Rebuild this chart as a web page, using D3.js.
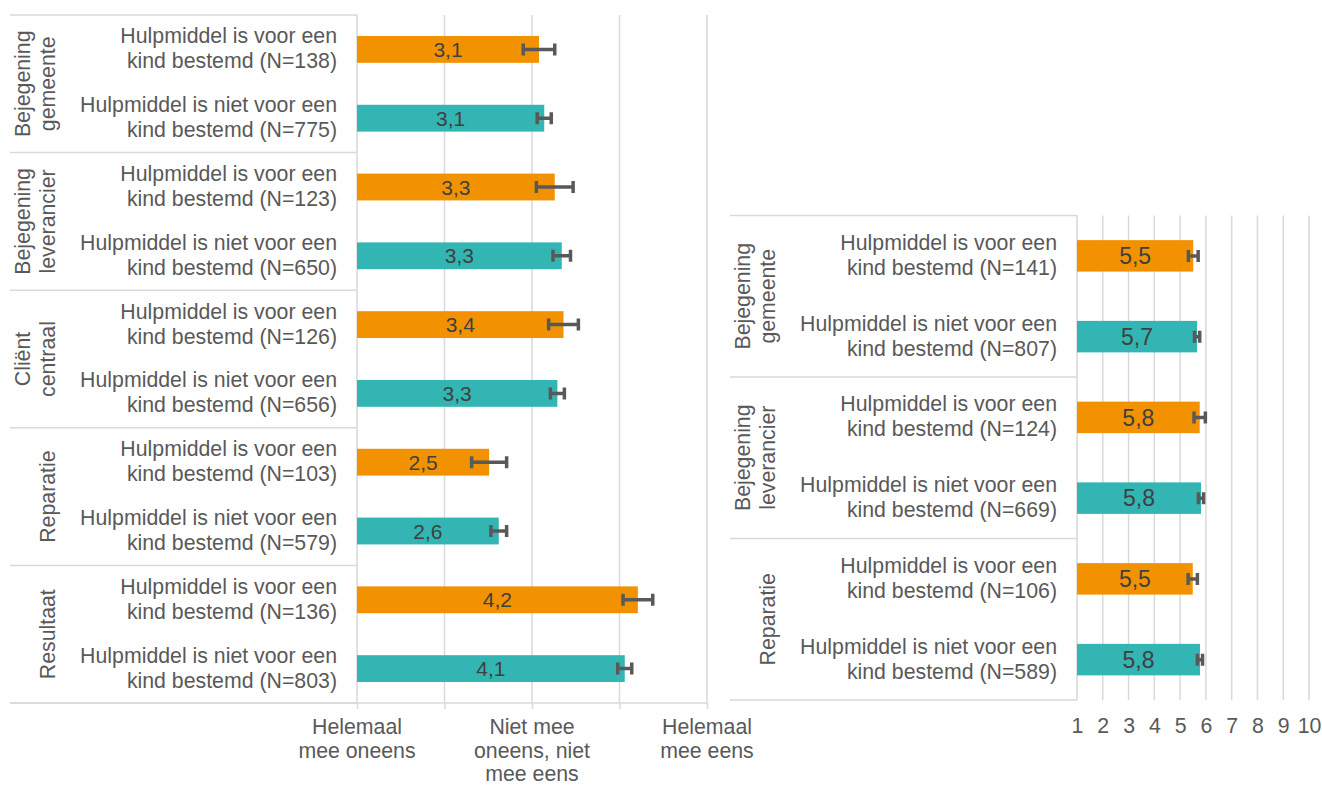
<!DOCTYPE html>
<html>
<head>
<meta charset="utf-8">
<script src="https://cdn.jsdelivr.net/npm/d3@7"></script>
<style>
	body { margin: 0; background: #fff; }
	svg { font-family: "Liberation Sans", Arial, sans-serif; }
	.grid { stroke: #d9d9d9; stroke-width: 1.5; }
	.lbl { fill: #595959; font-size: 21.3px; }
	.val { fill: #404040; }
	.err { stroke: #595959; stroke-width: 3.5; fill: none; }
</style>
</head>
<body>
<svg id="chart" width="1322" height="785"></svg>
<script>
// groups, items and values
var leftGroups = [["Bejegening", "gemeente"], ["Bejegening", "leverancier"], ["Cliënt", "centraal"], ["Reparatie"], ["Resultaat"]];
var rightGroups = [["Bejegening", "gemeente"], ["Bejegening", "leverancier"], ["Reparatie"]];
var itemLines = [["Hulpmiddel is voor een", "kind bestemd"], ["Hulpmiddel is niet voor een", "kind bestemd"]];
var seriesColors = ["#f39200", "#33b5b3"];

var leftN = [138, 775, 123, 650, 126, 656, 103, 579, 136, 803];
var leftMeans = [3.08, 3.14, 3.26, 3.34, 3.36, 3.29, 2.51, 2.62, 4.21, 4.06];
var leftErr = [0.18, 0.08, 0.21, 0.10, 0.17, 0.08, 0.20, 0.09, 0.17, 0.08];
var leftTicks = [1, 2, 3, 4, 5];
var leftTickLabels = {1: ["Helemaal", "mee oneens"], 3: ["Niet mee", "oneens, niet", "mee eens"], 5: ["Helemaal", "mee eens"]};

var rightN = [141, 807, 124, 669, 106, 589];
var rightMeans = [5.51, 5.66, 5.76, 5.81, 5.49, 5.77];
var rightErr = [0.19, 0.10, 0.22, 0.10, 0.18, 0.10];
var rightTicks = [1, 2, 3, 4, 5, 6, 7, 8, 9, 10];

var svg = d3.select("#chart");

function buildRows(means, errs, ns) {
	return means.map(function(m, i) {
		return {
			"i": i,
			"mean": m,
			"err": errs[i],
			"n": ns[i],
			"series": i % 2
		};
	});
}

function drawPanel(opt) {
	var g = svg.append("g");
	var rows = buildRows(opt.means, opt.errs, opt.ns);
	var x = d3.scaleLinear().domain(opt.domain).range([opt.x0, opt.x1]);
	var y = d3.scaleBand().domain(d3.range(rows.length)).range([opt.top, opt.bottom]);
	var groupY = d3.scaleBand().domain(d3.range(opt.groups.length)).range([opt.top, opt.bottom]);

	// gridlines
	g.selectAll("line.vgrid")
		.data(opt.ticks)
		.enter()
		.append("line")
		.attr("class", "grid")
		.attr("x1", function(d) { return x(d); })
		.attr("x2", function(d) { return x(d); })
		.attr("y1", opt.top)
		.attr("y2", opt.bottom);

	// separators of the label column
	var seps = d3.range(opt.groups.length + 1).map(function(k) {
		return k < opt.groups.length ? groupY(k) : opt.bottom;
	});
	g.selectAll("line.sep")
		.data(seps)
		.enter()
		.append("line")
		.attr("class", "grid")
		.attr("x1", opt.labelLeft)
		.attr("x2", x(opt.domain[0]))
		.attr("y1", function(d) { return d; })
		.attr("y2", function(d) { return d; });

	// group names, rotated
	g.selectAll("text.group")
		.data(opt.groups)
		.enter()
		.append("text")
		.attr("class", "lbl")
		.attr("text-anchor", "middle")
		.attr("transform", function(d, k) {
			return "translate(" + opt.labelLeft + "," + (groupY(k) + groupY.bandwidth() / 2) + ") rotate(-90)";
		})
		.each(function(d) {
			var t = d3.select(this);
			d.forEach(function(line, j) {
				t.append("tspan")
					.attr("x", 0)
					.attr("y", d.length == 1 ? 44.5 : 20 + j * 24.5)
					.text(line);
			});
		});

	// item labels
	g.selectAll("text.item")
		.data(rows)
		.enter()
		.append("text")
		.attr("class", "lbl")
		.attr("text-anchor", "end")
		.each(function(d) {
			var t = d3.select(this);
			var cy = y(d.i) + y.bandwidth() / 2;
			var lines = itemLines[d.series];
			t.append("tspan").attr("x", x(opt.domain[0]) - 20).attr("y", cy - 6).text(lines[0]);
			t.append("tspan").attr("x", x(opt.domain[0]) - 20).attr("y", cy + 19).text(lines[1] + " (N=" + d.n + ")");
		});

	// bars
	var barH = y.bandwidth() * 0.39;
	g.selectAll("rect.bar")
		.data(rows)
		.enter()
		.append("rect")
		.attr("x", x(opt.domain[0]))
		.attr("y", function(d) { return y(d.i) + (y.bandwidth() - barH) / 2; })
		.attr("width", function(d) { return x(d.mean) - x(opt.domain[0]); })
		.attr("height", barH)
		.attr("fill", function(d) { return seriesColors[d.series]; });

	// value labels
	g.selectAll("text.val")
		.data(rows)
		.enter()
		.append("text")
		.attr("class", "val")
		.attr("text-anchor", "middle")
		.attr("font-size", opt.valSize)
		.attr("x", function(d) { return (x(opt.domain[0]) + x(d.mean)) / 2; })
		.attr("y", function(d) { return y(d.i) + y.bandwidth() / 2; })
		.attr("dy", "0.36em")
		.text(function(d) { return d.mean.toFixed(1).replace(".", ","); });

	// error bars
	var capH = 12;
	g.selectAll("path.err")
		.data(rows)
		.enter()
		.append("path")
		.attr("class", "err")
		.attr("d", function(d) {
			var cy = y(d.i) + y.bandwidth() / 2;
			var a = x(d.mean - d.err), b = x(d.mean + d.err);
			return "M" + a + "," + (cy - capH / 2) + "V" + (cy + capH / 2) +
				"M" + a + "," + cy + "H" + b +
				"M" + b + "," + (cy - capH / 2) + "V" + (cy + capH / 2);
		});

	return {"g": g, "x": x, "y": y};
}

// left panel
var left = drawPanel({
	"groups": leftGroups,
	"means": leftMeans,
	"errs": leftErr,
	"ns": leftN,
	"domain": [1, 5],
	"ticks": leftTicks,
	"x0": 357,
	"x1": 707,
	"top": 15,
	"bottom": 703,
	"labelLeft": 10,
	"valSize": "21px"
});

var leftAxis = left.g.append("g")
	.attr("transform", "translate(0,703)")
	.call(d3.axisBottom(left.x).tickValues(leftTicks).tickSize(6).tickSizeOuter(0).tickFormat(""));
leftAxis.select(".domain").remove();
leftAxis.selectAll(".tick line").attr("stroke", "#d9d9d9").attr("stroke-width", 1.5);
left.g.append("line")
	.attr("class", "grid")
	.attr("x1", 10)
	.attr("x2", left.x(5))
	.attr("y1", 703)
	.attr("y2", 703);

left.g.selectAll("text.axlbl")
	.data(leftTicks.filter(function(d) { return leftTickLabels[d]; }))
	.enter()
	.append("text")
	.attr("class", "lbl")
	.attr("text-anchor", "middle")
	.each(function(d) {
		var t = d3.select(this);
		leftTickLabels[d].forEach(function(line, j) {
			t.append("tspan")
				.attr("x", left.x(d))
				.attr("y", 734 + j * 23.5)
				.text(line);
		});
	});

// right panel
var right = drawPanel({
	"groups": rightGroups,
	"means": rightMeans,
	"errs": rightErr,
	"ns": rightN,
	"domain": [1, 10],
	"ticks": rightTicks,
	"x0": 1077,
	"x1": 1309,
	"top": 215.5,
	"bottom": 700,
	"labelLeft": 730,
	"valSize": "23px"
});

var rightAxis = right.g.append("g")
	.attr("transform", "translate(0,700)")
	.call(d3.axisBottom(right.x).tickValues(rightTicks).tickSize(0).tickPadding(0));
rightAxis.select(".domain").remove();
rightAxis.selectAll(".tick text")
	.attr("class", "lbl")
	.attr("font-family", null)
	.attr("font-size", null)
	.attr("dy", null)
	.attr("y", 33);
</script>
</body>
</html>
